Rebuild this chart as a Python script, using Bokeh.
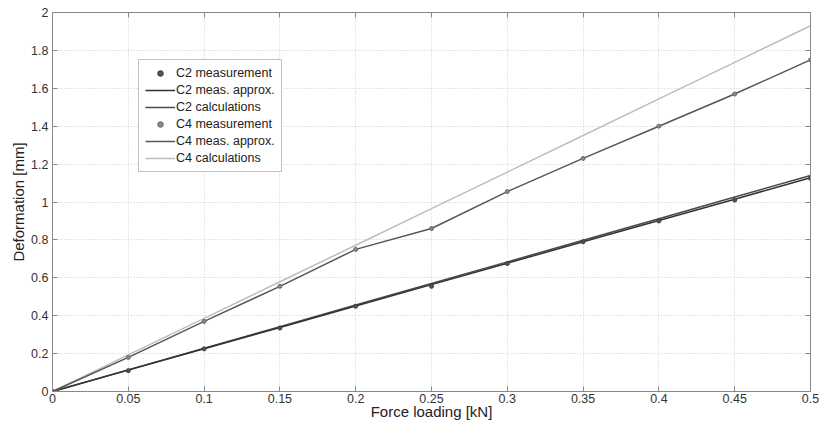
from bokeh.plotting import figure
from bokeh.embed import file_html
from bokeh.resources import INLINE
from bokeh.models import Legend, LegendItem, LinearAxis, FixedTicker

force = [0, 0.05, 0.1, 0.15, 0.2, 0.25, 0.3, 0.35, 0.4, 0.45, 0.5]
c2_meas = [0, 0.11, 0.225, 0.335, 0.45, 0.555, 0.675, 0.79, 0.90, 1.01, 1.125]
c2_approx = [0, 0.113, 0.226, 0.338, 0.451, 0.564, 0.677, 0.790, 0.902, 1.015, 1.128]
c2_calc = [0, 0.114, 0.228, 0.342, 0.456, 0.570, 0.684, 0.798, 0.912, 1.026, 1.14]
c4_meas = [0, 0.18, 0.37, 0.555, 0.75, 0.86, 1.055, 1.23, 1.40, 1.57, 1.75]
c4_approx = [0, 0.18, 0.37, 0.555, 0.75, 0.86, 1.055, 1.23, 1.40, 1.57, 1.75]
c4_calc = [0, 0.193, 0.386, 0.579, 0.772, 0.965, 1.158, 1.351, 1.544, 1.737, 1.93]

x_ticks = [0, 0.05, 0.1, 0.15, 0.2, 0.25, 0.3, 0.35, 0.4, 0.45, 0.5]
y_ticks = [0, 0.2, 0.4, 0.6, 0.8, 1, 1.2, 1.4, 1.6, 1.8, 2]

FONT = "Liberation Sans"

p = figure(width=819, height=428, output_backend="svg", toolbar_location=None,
           x_range=(0, 0.5), y_range=(0, 2),
           min_border_left=52, min_border_right=9, min_border_top=12, min_border_bottom=37)
p.background_fill_color = "white"
p.border_fill_color = "white"
p.outline_line_color = "#888888"
p.outline_line_width = 1

bottom_ax = p.below[0]
left_ax = p.left[0]

# hidden-label axes on top and right just to draw inward ticks (MATLAB box style)
top_ax = LinearAxis()
right_ax = LinearAxis()
p.add_layout(top_ax, "above")
p.add_layout(right_ax, "right")

def style_axis(ax, ticks, show_labels=True):
    ax.ticker = FixedTicker(ticks=ticks)
    ax.major_tick_in = 5
    ax.major_tick_out = 0
    ax.minor_tick_in = 0
    ax.minor_tick_out = 0
    ax.axis_line_color = "#888888"
    ax.major_tick_line_color = "#888888"
    ax.major_label_text_font = FONT
    ax.major_label_text_color = "#333333"
    ax.axis_label_text_font = FONT
    ax.axis_label_text_font_size = "15px"
    ax.axis_label_text_font_style = "normal"
    ax.axis_label_text_color = "#222222"
    if show_labels:
        ax.major_label_text_font_size = "12.5px"
        ax.major_label_overrides = {t: ("%g" % t) for t in ticks}
    else:
        ax.major_label_text_font_size = "1px"
        ax.major_label_text_alpha = 0
        ax.major_label_standoff = 0

style_axis(bottom_ax, x_ticks)
style_axis(left_ax, y_ticks)
style_axis(top_ax, x_ticks, show_labels=False)
style_axis(right_ax, y_ticks, show_labels=False)

bottom_ax.axis_label = "Force loading [kN]"
left_ax.axis_label = "Deformation [mm]"
bottom_ax.major_label_standoff = 2
bottom_ax.axis_label_standoff = -3
left_ax.major_label_standoff = 4
left_ax.axis_label_standoff = 1

p.xgrid.ticker = FixedTicker(ticks=x_ticks)
p.ygrid.ticker = FixedTicker(ticks=y_ticks)
p.grid.grid_line_color = "#cccccc"
p.grid.grid_line_dash = "1 2"
p.grid.grid_line_width = 1

r_c2c = p.line(force, c2_calc, line_color="#4a4a4a", line_width=1.5)
r_c2a = p.line(force, c2_approx, line_color="#333333", line_width=1.5)
r_c4c = p.line(force, c4_calc, line_color="#bdbdbd", line_width=1.5)
r_c4a = p.line(force, c4_approx, line_color="#555555", line_width=1.5)
r_c4m = p.scatter(force, c4_meas, size=4, fill_color="#8a8a8a", line_color="#6a6a6a")
r_c2m = p.scatter(force, c2_meas, size=4, fill_color="#555555", line_color="#3a3a3a")

legend = Legend(items=[
    LegendItem(label="C2 measurement", renderers=[r_c2m]),
    LegendItem(label="C2 meas. approx.", renderers=[r_c2a]),
    LegendItem(label="C2 calculations", renderers=[r_c2c]),
    LegendItem(label="C4 measurement", renderers=[r_c4m]),
    LegendItem(label="C4 meas. approx.", renderers=[r_c4a]),
    LegendItem(label="C4 calculations", renderers=[r_c4c]),
], location=(86, 219))
legend.label_text_font = FONT
legend.label_text_font_size = "12.5px"
legend.label_text_color = "#222222"
legend.label_standoff = 1
legend.glyph_width = 30
legend.glyph_height = 14
legend.label_height = 14
legend.spacing = 3
legend.padding = 6
legend.border_line_color = "#888888"
legend.background_fill_color = "white"
legend.background_fill_alpha = 1
p.add_layout(legend, "center")

open("out.html", "w").write(file_html(p, INLINE))
